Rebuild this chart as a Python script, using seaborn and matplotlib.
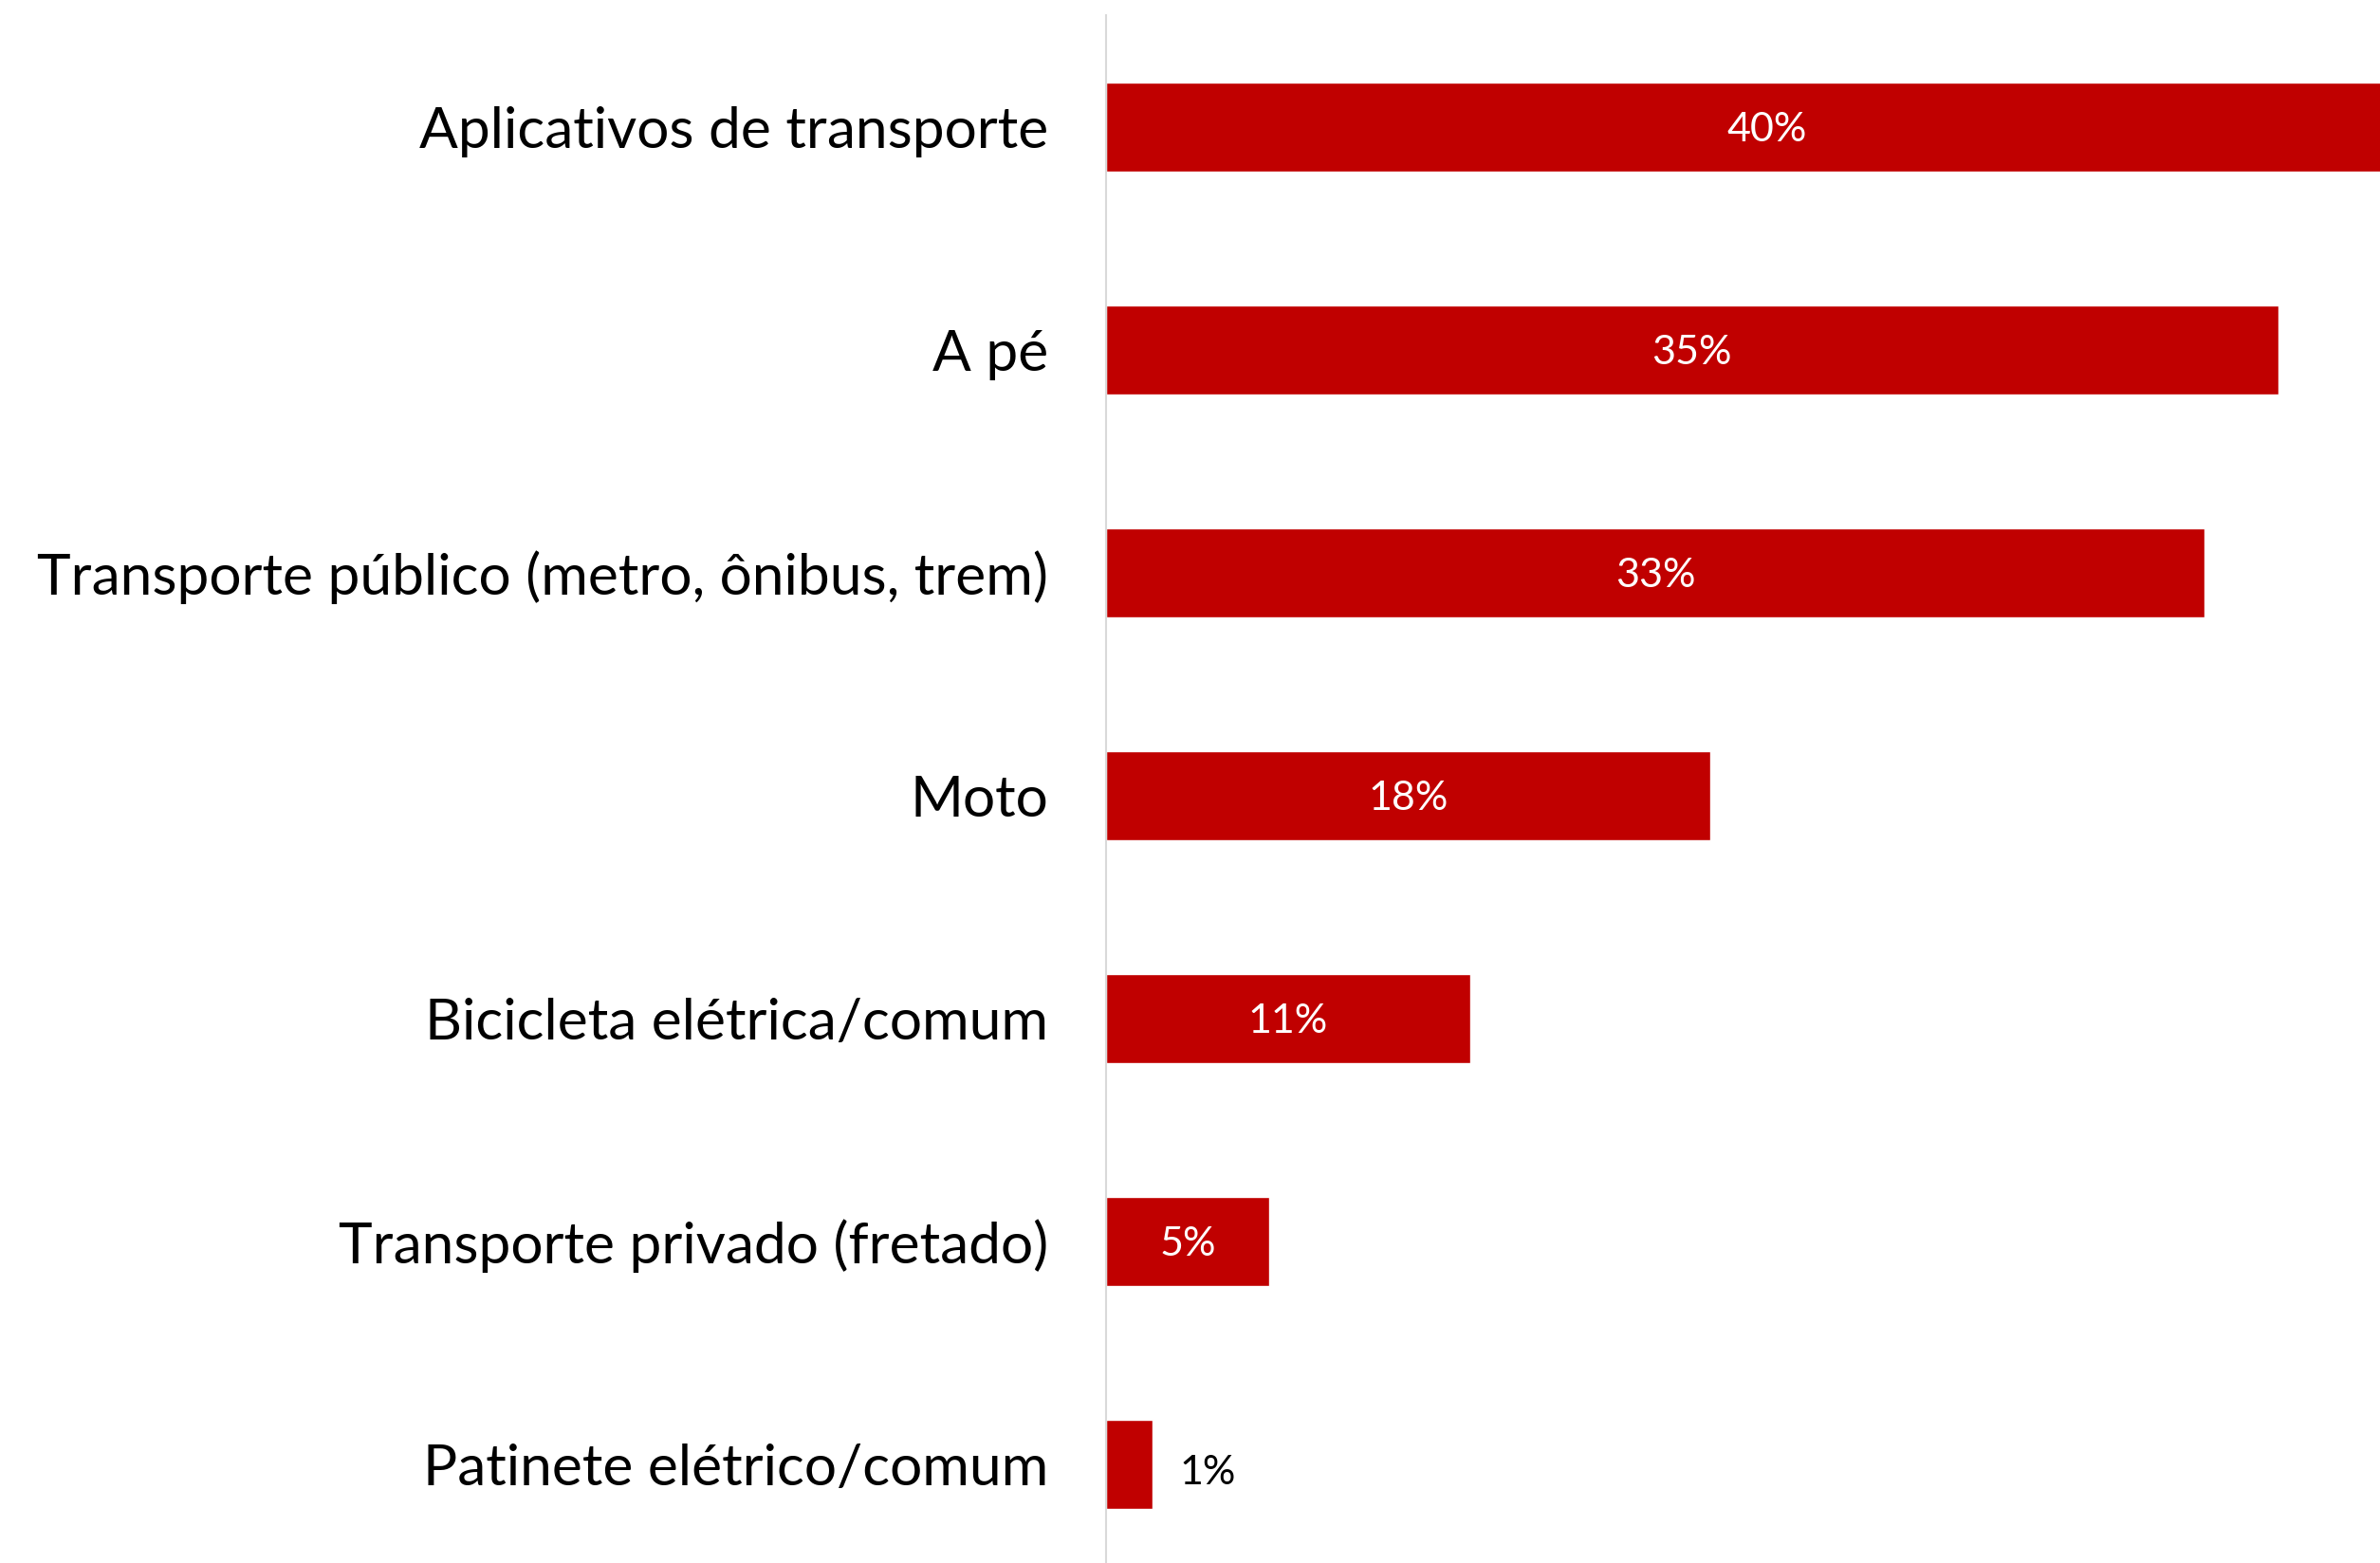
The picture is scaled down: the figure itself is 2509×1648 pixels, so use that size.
import matplotlib
matplotlib.use("Agg")
import matplotlib.pyplot as plt
import seaborn as sns
import pandas as pd

categories = [
    "Aplicativos de transporte",
    "A pé",
    "Transporte público (metro, ônibus, trem)",
    "Moto",
    "Bicicleta elétrica/comum",
    "Transporte privado (fretado)",
    "Patinete elétrico/comum",
]
values = [39.6, 35.1, 32.9, 18.1, 10.9, 4.9, 1.4]
labels = ["40%", "35%", "33%", "18%", "11%", "5%", "1%"]

sns.set_theme(style="white")
plt.rcParams["font.family"] = ["Lato", "DejaVu Sans"]

df = pd.DataFrame({"cat": categories, "val": values})

fig = plt.figure(figsize=(25.09, 16.48), dpi=100)
ax = fig.add_axes([0.4647, -0.0079, 0.5353, 0.998])

sns.barplot(data=df, x="val", y="cat", color="#C00000", width=0.4,
            saturation=1, ax=ax, orient="h")

ax.set_xlim(0, 38.15)
ax.set_ylim(6.5, -0.5)
ax.set_xlabel("")
ax.set_ylabel("")
ax.set_xticks([])
ax.tick_params(axis="y", length=0, pad=44, labelsize=43.5, colors="black")
for s in ["top", "right", "bottom"]:
    ax.spines[s].set_visible(False)
ax.spines["left"].set_color("#D9D9D9")
ax.spines["left"].set_linewidth(1.5)

for i, (v, lab) in enumerate(zip(values, labels)):
    if v >= 3:
        ax.text(v / 2, i + 0.015, lab, ha="center", va="center",
                color="white", fontsize=31, clip_on=False)
    else:
        ax.text(v + 0.8, i + 0.04, lab, ha="left", va="center",
                color="black", fontsize=31, clip_on=False)

fig.savefig("out.png", dpi=100, facecolor="white")
